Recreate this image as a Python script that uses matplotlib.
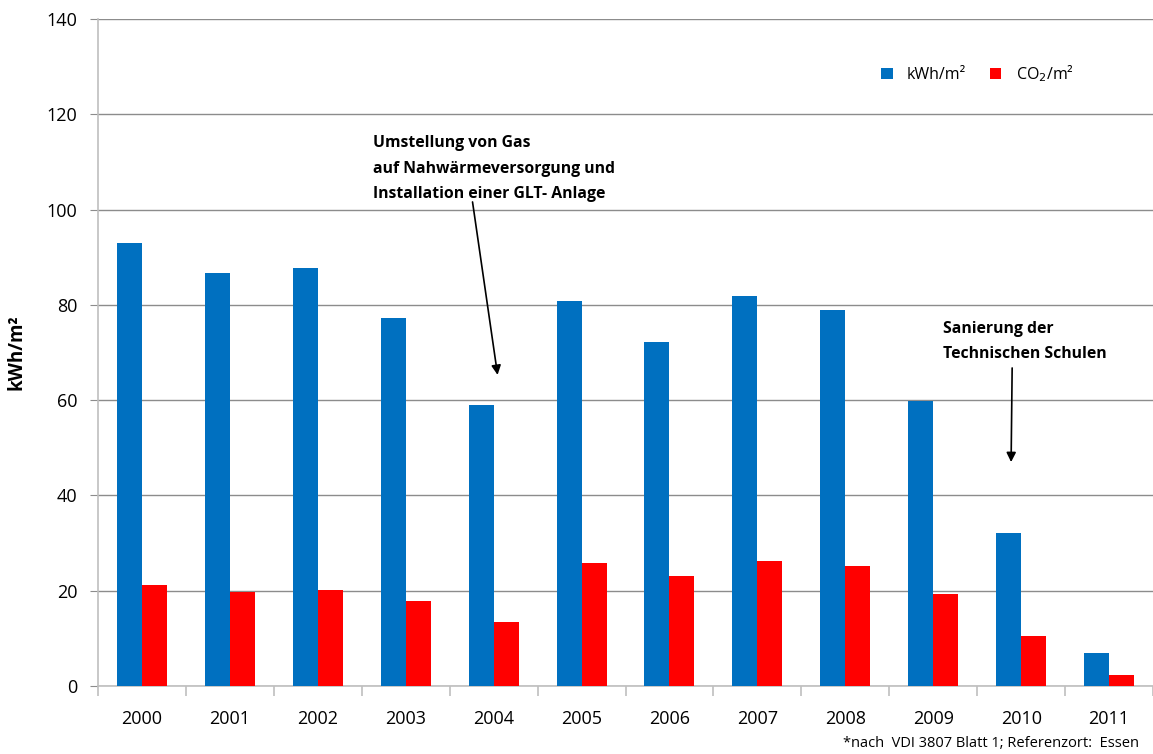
import matplotlib.pyplot as plt
import numpy as np

plt.rcParams['font.family'] = ['Open Sans', 'DejaVu Sans']

jahre = ["2000", "2001", "2002", "2003", "2004", "2005",
         "2006", "2007", "2008", "2009", "2010", "2011"]
kwh = [93.0, 86.7, 87.7, 77.2, 59.0, 80.8, 72.2, 81.9, 78.9, 59.8, 32.1, 6.9]
co2 = [21.2, 19.7, 20.2, 17.8, 13.4, 25.8, 23.1, 26.2, 25.2, 19.3, 10.5, 2.3]

blau = "#0070C0"
rot = "#FF0000"

fig = plt.figure(figsize=(11.53, 7.54), dpi=100)
ax = fig.add_axes([0.085, 0.0902, 0.915, 0.8846])

x = np.arange(len(jahre))
w = 0.284
ax.bar(x - w / 2, kwh, w, color=blau, label="kWh/m²", zorder=3)
ax.bar(x + w / 2, co2, w, color=rot, label="CO$_2$/m²", zorder=3)

ax.set_xlim(-0.5, len(jahre) - 0.5)
ax.set_ylim(0, 140)
ax.set_yticks(range(0, 141, 20))
ax.yaxis.grid(True, color="#8c8c8c", linewidth=1, zorder=0)
ax.tick_params(axis="y", length=6, color="#8c8c8c", labelsize=13, pad=9)

ax.set_xticks(x)
ax.set_xticklabels(jahre, fontsize=13)
ax.tick_params(axis="x", length=0, pad=17)
ax.set_xticks(np.arange(-0.5, len(jahre), 1), minor=True)
ax.tick_params(axis="x", which="minor", length=7, color="#bfbfbf", width=1.2)

for s in ["top", "right"]:
    ax.spines[s].set_visible(False)
ax.spines["left"].set_color("#bfbfbf")
ax.spines["bottom"].set_color("#bfbfbf")
ax.spines["left"].set_linewidth(1.2)
ax.spines["bottom"].set_linewidth(1.2)

ax.set_ylabel("kWh/m²", fontsize=13.5, fontweight="bold", labelpad=14)

ax.legend(loc="upper left", bbox_to_anchor=(0.729, 0.955), ncol=2, frameon=False,
          fontsize=11.5, handlelength=0.7, handleheight=0.7, columnspacing=1.5,
          handletextpad=0.9)

ax.annotate("", xy=(4.045, 65.3), xytext=(3.76, 101.6),
            arrowprops=dict(arrowstyle="-|>", color="black", lw=1.2,
                            mutation_scale=14, shrinkA=0, shrinkB=0))
ax.text(2.625, 115.6, "Umstellung von Gas\nauf Nahwärmeversorgung und\nInstallation einer GLT- Anlage",
        fontsize=11.3, fontweight="bold", va="top", ha="left", linespacing=1.8)

ax.annotate("", xy=(9.886, 47.0), xytext=(9.898, 66.75),
            arrowprops=dict(arrowstyle="-|>", color="black", lw=1.2,
                            mutation_scale=14, shrinkA=0, shrinkB=0))
ax.text(9.11, 76.6, "Sanierung der\nTechnischen Schulen",
        fontsize=11.3, fontweight="bold", va="top", ha="left", linespacing=1.75)

fig.text(0.988, 0.0135, "*nach  VDI 3807 Blatt 1; Referenzort:  Essen",
         fontsize=10.5, ha="right", va="center")

fig.savefig("out.png", dpi=100)
